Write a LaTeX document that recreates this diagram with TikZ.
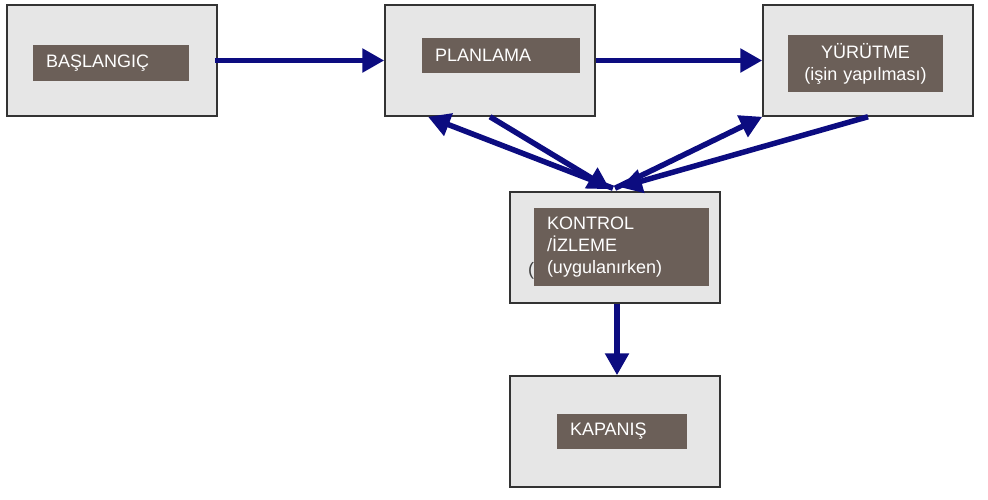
\documentclass[tikz,border=0pt]{standalone}
\usepackage{fontspec}
\setmainfont{Liberation Sans}
\usetikzlibrary{arrows.meta}
\definecolor{boxgray}{RGB}{230,230,230}
\definecolor{tagbrown}{RGB}{107,95,88}
\definecolor{arrowblue}{RGB}{12,12,128}
\tikzstyle{stagebox} = [draw=black!80, line width=1.5pt, fill=boxgray, minimum width=210pt, minimum height=111pt, inner sep=0pt]
\tikzstyle{tagbox} = [fill=tagbrown, text=white, inner xsep=13pt, inner ysep=0pt, align=left, font=\fontsize{18}{22}\selectfont]
\tikzstyle{arrow} = [line width=5.5pt, arrowblue, -{Triangle[length=22pt,width=23pt]}]

\begin{document}
\begin{tikzpicture}[x=1pt, y=-1pt]
    \useasboundingbox (0,0) rectangle (988,499);

        % Define stage boxes
        \node[stagebox] (start) at (112,60.5) {};
        \node[stagebox] (plan) at (490,60.5) {};
        \node[stagebox] (exec) at (868,60.5) {};
        \node[stagebox] (ctrl) at (615,247.5) {};
        \node[stagebox] (close) at (615,431.5) {};

        % Left-over bracket behind the control tag
        \node[text=black!75, font=\fontsize{18}{22}\selectfont, inner sep=0pt] (paren) at (531,271) {(};

        % Define brown tags
        \node[tagbox, text width=130pt, minimum height=36pt] (startTag) at (111,63) {BAŞLANGIÇ};
        \node[tagbox, text width=132pt, minimum height=35pt] (planTag) at (501,55.5) {PLANLAMA};
        \node[tagbox, text width=129pt, minimum height=57pt, align=center] (execTag) at (865.5,63.5) {YÜRÜTME\\(işin yapılması)};
        \node[tagbox, text width=149pt, minimum height=78pt] (ctrlTag) at (621.5,247) {KONTROL\\/İZLEME\\(uygulanırken)};
        \node[tagbox, text width=104pt, minimum height=35pt] (closeTag) at (622,431.5) {KAPANIŞ};

        % Draw arrows
        \draw[arrow] ([xshift=-3pt]start.east) -- (plan.west);
        \draw[arrow] (plan.east) -- (exec.west);
        \draw[arrow] (plan.south) -- ([xshift=-5pt, yshift=2pt]ctrl.north);
        \draw[arrow] ([xshift=-2pt, yshift=3pt]ctrl.north) -- ([xshift=-62pt]plan.south);
        \draw[arrow] ([yshift=3pt]ctrl.north) -- (exec.south west);
        \draw[arrow] (exec.south) -- ([xshift=5pt, yshift=4pt]ctrl.north);
        \draw[arrow] ([xshift=2pt]ctrl.south) -- ([xshift=2pt]close.north);

    \end{tikzpicture}
\end{document}
